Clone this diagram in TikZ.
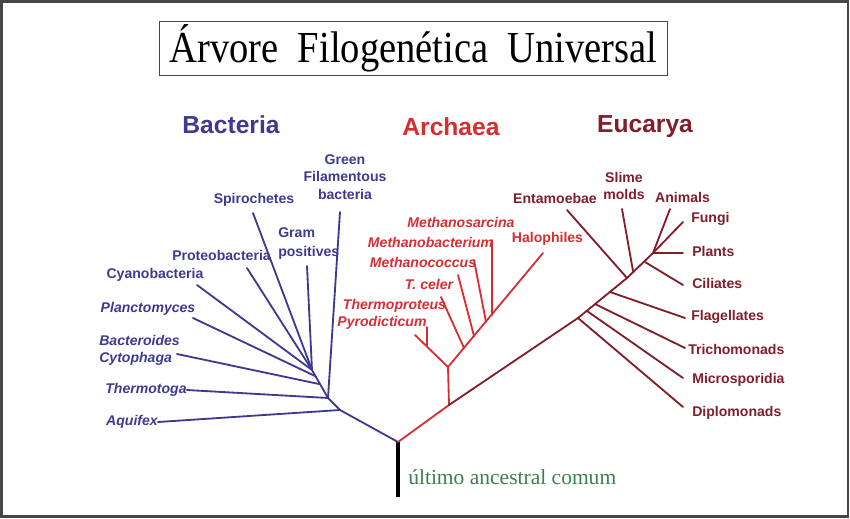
\documentclass[tikz,border=0pt]{standalone}
\usepackage{fontspec}
\setmainfont{Liberation Serif}
\setsansfont{Liberation Sans}
\usetikzlibrary{calc}

\definecolor{bactblue}{RGB}{62,58,146}
\definecolor{archred}{RGB}{214,46,50}
\definecolor{eukred}{RGB}{128,30,42}
\definecolor{ancgreen}{RGB}{58,128,78}
\definecolor{framegray}{RGB}{70,70,70}

\tikzset{
  branch/.style={line width=1.3pt, line cap=round},
  taxon/.style={font=\sffamily\bfseries\fontsize{10}{12.5}\selectfont, inner sep=0pt, align=center},
  itaxon/.style={taxon, font=\sffamily\bfseries\itshape\fontsize{10}{12.5}\selectfont},
  domainlbl/.style={font=\sffamily\bfseries\fontsize{17.5}{20}\selectfont, inner sep=0pt},
}

\begin{document}
\begin{tikzpicture}[x=0.025cm, y=-0.025cm]
\useasboundingbox (0,0) rectangle (850,519);
\draw[framegray, line width=2pt] (1.5,1.5) rectangle (848,516.5);

% Title
\node[draw=framegray, line width=0.7pt, minimum width=12.675cm, minimum height=1.325cm, inner sep=0pt]
  (title) at (413.5,48.5) {\fontsize{31.5}{34}\selectfont\scalebox{0.87}[1]{Árvore\ \ Filogenética\ \ Universal}};

% Domain headings
\node[domainlbl, text=bactblue] (bacteria) at (231,125) {Bacteria};
\node[domainlbl, text=archred] (archaea) at (451,127) {Archaea};
\node[domainlbl, text=eukred] (eucarya) at (645,127) {Eucarya};

% Root
\coordinate (root) at (398,442);
\coordinate (rootend) at (398,497);
\draw[line width=2.2pt] (root) -- (rootend);
\node[anchor=west, inner sep=0pt, text=ancgreen, font=\fontsize{15.3}{18}\selectfont] (luca) at (408,477) {último ancestral comum};

% Bacteria
\begin{scope}[bactblue]
\coordinate (hubA) at (340,410);
\coordinate (hubB) at (328,398);
\coordinate (hubC) at (312,370);
\coordinate (hubD) at (319,384);
\coordinate (hubE) at (315,376);
\node[taxon] (green) at (345,177) {Green\\Filamentous\\bacteria};
\node[taxon] (spiro) at (254,200) {Spirochetes};
\node[taxon, align=left, anchor=west, font=\sffamily\bfseries\fontsize{10}{13.5}\selectfont] (gram) at (278,243.5) {Gram\\positives};
\node[taxon] (proteo) at (221.5,255) {Proteobacteria};
\node[taxon] (cyano) at (155,275) {Cyanobacteria};
\node[itaxon] (plancto) at (148,309) {Planctomyces};
\node[itaxon, align=left, anchor=west, font=\sffamily\bfseries\itshape\fontsize{10}{12}\selectfont] (bactero) at (99,350.5) {Bacteroides\\Cytophaga};
\node[itaxon] (thermotoga) at (146,390) {Thermotoga};
\node[itaxon] (aquifex) at (132,422) {Aquifex};
\coordinate (greentip) at (340,212);
\coordinate (spirotip) at (253,213);
\coordinate (gramtip) at (307,266);
\coordinate (proteotip) at (247,268);
\coordinate (cyanotip) at (197,285);
\coordinate (planctotip) at (193,318);
\coordinate (bacterotip) at (177,354);
\draw[branch] (root) -- (hubA) -- (hubB) -- (hubC);
\draw[branch] (aquifex.east) -- (hubA);
\draw[branch] (thermotoga.east) -- (hubB);
\draw[branch] (bacterotip) -- (hubD);
\draw[branch] (planctotip) -- (hubE);
\draw[branch] (cyanotip) -- (hubC);
\draw[branch] (proteotip) -- (hubC);
\draw[branch] (spirotip) -- (hubC);
\draw[branch] (gramtip) -- (hubC);
\draw[branch] (greentip) -- (hubB);
\end{scope}

% Archaea
\begin{scope}[archred]
\coordinate (A0) at (449,405);
\coordinate (A1) at (448,367);
\node[itaxon] (msarcina) at (461,222) {Methanosarcina};
\node[itaxon] (mbact) at (430.5,242) {Methanobacterium};
\node[itaxon] (mcoccus) at (423,262) {Methanococcus};
\node[itaxon] (tceler) at (429,284) {T. celer};
\node[itaxon] (thermoprot) at (394.5,306) {Thermoproteus};
\node[itaxon] (pyro) at (382,323) {Pyrodicticum};
\node[taxon] (halo) at (547.5,239) {Halophiles};
\coordinate (halotip) at (543,253);
\coordinate (pyrotip) at (415,335);
\coordinate (pyrojoin) at (427,346);
\coordinate (thermotip) at (427,327);
\coordinate (tcelertip) at (441,297);
\coordinate (tcelerjoin) at (464,348);
\coordinate (mcoccustip) at (458,275);
\coordinate (mcoccusjoin) at (474,336);
\coordinate (mbacttip) at (474,260);
\coordinate (mbactjoin) at (486,322);
\coordinate (msarcinatip) at (492,240);
\coordinate (msarcinajoin) at (492,315);
\draw[branch] (root) -- (A0) -- (A1) -- (halotip);
\draw[branch] (A1) -- (pyrotip);
\draw[branch] (pyrojoin) -- (thermotip);
\draw[branch] (tcelertip) -- (tcelerjoin);
\draw[branch] (mcoccustip) -- (mcoccusjoin);
\draw[branch] (mbacttip) -- (mbactjoin);
\draw[branch] (msarcinatip) -- (msarcinajoin);
\end{scope}

% Eucarya
\begin{scope}[eukred]
\coordinate (E0) at (578,318);
\coordinate (E1) at (627,278);
\coordinate (E2) at (633,271);
\coordinate (E3) at (645,262);
\coordinate (E4) at (653,253);
\coordinate (microjoin) at (587,311);
\coordinate (trichojoin) at (595,304);
\coordinate (flagjoin) at (610,292);
\node[taxon] (entam) at (555,198) {Entamoebae};
\node[taxon] (slime) at (624,186) {Slime\\molds};
\node[taxon] (animals) at (682.5,197) {Animals};
\node[taxon, anchor=west] (fungi) at (691,219) {Fungi};
\node[taxon, anchor=west] (plants) at (692,251) {Plants};
\node[taxon, anchor=west] (ciliates) at (692,283) {Ciliates};
\node[taxon, anchor=west] (flag) at (691,317) {Flagellates};
\node[taxon, anchor=west] (tricho) at (688,349) {Trichomonads};
\node[taxon, anchor=west] (micro) at (692,380) {Microsporidia};
\node[taxon, anchor=west] (diplo) at (692,413) {Diplomonads};
\coordinate (entamtip) at (567,210);
\coordinate (slimetip) at (622,209);
\coordinate (animalstip) at (670,209);
\draw[branch] (A0) -- (E0) -- (E1) -- (E4);
\draw[branch] (E0) -- ($(diplo.west)+(-9,-6)$);
\draw[branch] (microjoin) -- ($(micro.west)+(-9,-2)$);
\draw[branch] (trichojoin) -- ($(tricho.west)+(-3,-1)$);
\draw[branch] (flagjoin) -- ($(flag.west)+(-6,1)$);
\draw[branch] (E1) -- (entamtip);
\draw[branch] (E2) -- (slimetip);
\draw[branch] (E3) -- ($(ciliates.west)+(-9,2)$);
\draw[branch] (E4) -- (animalstip);
\draw[branch] (E4) -- ($(fungi.west)+(-8,3)$);
\draw[branch] (E4) -- ($(plants.west)+(-9,2)$);
\end{scope}
\end{tikzpicture}
\end{document}
